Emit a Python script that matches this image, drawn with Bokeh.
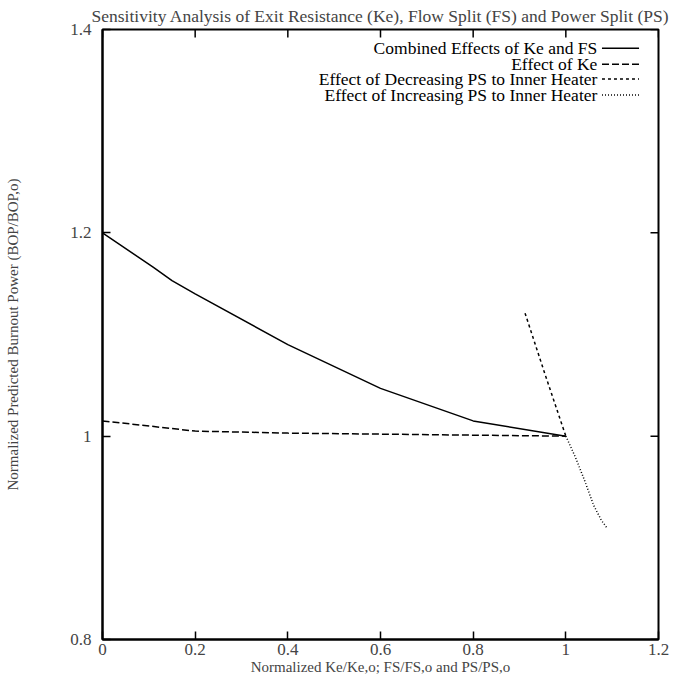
import math
from bokeh.plotting import figure
from bokeh.models import Range1d, FixedTicker, Label, Arrow
from bokeh.embed import file_html
from bokeh.resources import INLINE

# ---------------- data ----------------
title_text = "Sensitivity Analysis of Exit Resistance (Ke), Flow Split (FS) and Power Split (PS)"
x_label = "Normalized Ke/Ke,o; FS/FS,o and PS/PS,o"
y_label = "Normalized Predicted Burnout Power (BOP/BOP,o)"

x_ticks = [0, 0.2, 0.4, 0.6, 0.8, 1.0, 1.2]
x_tick_labels = ["0", "0.2", "0.4", "0.6", "0.8", "1", "1.2"]
y_ticks = [0.8, 1.0, 1.2, 1.4]
y_tick_labels = ["0.8", "1", "1.2", "1.4"]

combined_x = [0.0, 0.11, 0.15, 0.2, 0.4, 0.6, 0.8, 1.0]
combined_y = [1.2, 1.166, 1.153, 1.14, 1.09, 1.047, 1.015, 1.0]

ke_x = [0.0, 0.2, 0.4, 0.6, 0.8, 1.0]
ke_y = [1.015, 1.005, 1.003, 1.002, 1.001, 1.0]

dec_x = [0.912, 0.955, 1.0]
dec_y = [1.121, 1.061, 1.0]

inc_x = [1.0, 1.02, 1.04, 1.06, 1.077, 1.09]
inc_y = [1.0, 0.98, 0.957, 0.932, 0.917, 0.909]

legend_labels = [
    "Combined Effects of Ke and FS",
    "Effect of Ke",
    "Effect of Decreasing PS to Inner Heater",
    "Effect of Increasing PS to Inner Heater",
]

# ---------------- styles ----------------
FONT = "Liberation Serif"
dashes = ["solid", "7 3", "3 3", "1 2"]
widths = [1.5, 1.5, 1.5, 1.5]

p = figure(width=673, height=681, output_backend="svg", toolbar_location=None,
           x_range=Range1d(0, 1.2), y_range=Range1d(0.8, 1.4),
           min_border_left=102, min_border_right=15, min_border_top=29,
           min_border_bottom=42)

p.title.text = title_text
p.title.align = "center"
p.title.text_font = FONT
p.title.text_font_size = "17.5px"
p.title.text_font_style = "normal"
p.title.standoff = 7

p.grid.visible = False
p.outline_line_color = "black"
p.outline_line_width = 2
p.background_fill_color = "white"
p.border_fill_color = "white"


def style_axis(ax):
    ax.major_tick_in = 8
    ax.major_tick_out = 0
    ax.minor_tick_line_color = None
    ax.axis_line_color = "black"
    ax.axis_line_width = 2
    ax.major_tick_line_width = 1.5
    ax.major_label_text_font = FONT
    ax.major_label_text_font_size = "17px"
    ax.axis_label_text_font = FONT
    ax.axis_label_text_font_size = "15px"
    ax.axis_label_text_font_style = "normal"


xa = p.xaxis[0]
xa.ticker = FixedTicker(ticks=x_ticks)
xa.major_label_overrides = dict(zip(x_ticks, x_tick_labels))
xa.axis_label = x_label
style_axis(xa)
xa.major_label_standoff = 4
xa.axis_label_standoff = 1

ya = p.yaxis[0]
ya.ticker = FixedTicker(ticks=y_ticks)
ya.major_label_overrides = dict(zip(y_ticks, y_tick_labels))
ya.axis_label = y_label
style_axis(ya)
ya.major_label_standoff = 11
ya.axis_label_standoff = 46

# mirrored inward tick marks on top and right edges
p.ray(x=x_ticks, y=[1.4] * len(x_ticks), length=8, length_units="screen",
      angle=-math.pi / 2, line_color="black", line_width=1.5)
p.ray(x=[1.2] * len(y_ticks), y=y_ticks, length=8, length_units="screen",
      angle=math.pi, line_color="black", line_width=1.5)

series = [(combined_x, combined_y), (ke_x, ke_y), (dec_x, dec_y), (inc_x, inc_y)]
for (xs, ys), d, w in zip(series, dashes, widths):
    p.line(xs, ys, line_color="black", line_width=w, line_dash=d)

# manual legend (text right-aligned, sample to the right)
leg_y = [1.3815, 1.3659, 1.3512, 1.3356]
for lab, yy, d, w in zip(legend_labels, leg_y, dashes, widths):
    p.add_layout(Label(x=1.068, y=yy, text=lab, text_align="right",
                       text_baseline="middle", text_font=FONT,
                       text_font_size="17.5px", text_color="black"))
    p.add_layout(Arrow(end=None, x_start=1.078, y_start=yy, x_end=1.158,
                       y_end=yy, line_color="black", line_width=w,
                       line_dash=d))

open("out.html", "w").write(file_html(p, INLINE))
